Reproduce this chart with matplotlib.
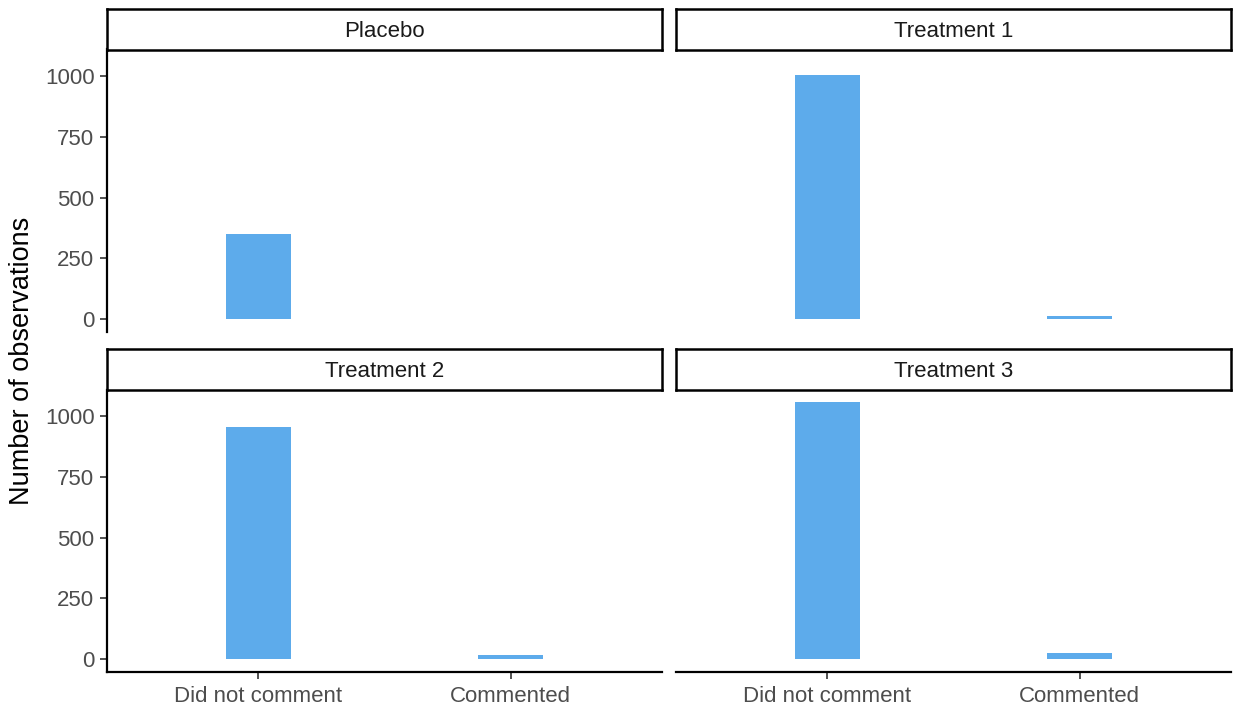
import matplotlib
matplotlib.use('Agg')
import matplotlib.pyplot as plt

plt.rcParams['font.family'] = ['Liberation Sans', 'DejaVu Sans']

groups = ['Placebo', 'Treatment 1', 'Treatment 2', 'Treatment 3']
categories = ['Did not comment', 'Commented']
did_not_comment = [350, 1003, 957, 1057]
commented = [0, 13, 19, 25]
y_ticks = [0, 250, 500, 750, 1000]

W, H = 1236, 708
bar_color = '#5DABEB'
grey = '#4D4D4D'

fig = plt.figure(figsize=(W / 100, H / 100), dpi=100)

# panel boxes in pixels: (left, right), (strip top, panel top, panel bottom)
cols = [(107, 662), (676, 1231)]
rows = [(8.5, 49.5, 332), (348.5, 389.5, 672)]

ymax = max(did_not_comment + commented)
pad = ymax * 0.05

for i, name in enumerate(groups):
    r, c = divmod(i, 2)
    x0, x1 = cols[c]
    s0, p0, p1 = rows[r]

    ax = fig.add_axes([x0 / W, 1 - p1 / H, (x1 - x0) / W, (p1 - p0) / H])
    xs = [1, 2]
    vals = [did_not_comment[i], commented[i]]
    ax.bar(xs, vals, width=0.26, color=bar_color)
    ax.set_xlim(0.4, 2.6)
    ax.set_ylim(-pad, ymax + pad)

    for s in ax.spines.values():
        s.set_visible(False)
        s.set_linewidth(1.6)
    ax.tick_params(width=1.2, length=5, color='#333333', labelcolor=grey,
                   labelsize=16)
    ax.tick_params(axis='y', pad=4)
    ax.tick_params(axis='x', pad=5)

    if c == 0:
        ax.spines['left'].set_visible(True)
        ax.set_yticks(y_ticks)
    else:
        ax.set_yticks([])
    if r == 1:
        ax.spines['bottom'].set_visible(True)
        ax.set_xticks(xs)
        ax.set_xticklabels(categories)
    else:
        ax.set_xticks([])

    # facet strip
    st = fig.add_axes([x0 / W, 1 - p0 / H, (x1 - x0) / W, (p0 - s0) / H])
    st.set_xticks([])
    st.set_yticks([])
    for s in st.spines.values():
        s.set_linewidth(1.8)
        s.set_color('black')
    st.text(0.5, 0.44, name, ha='center', va='center', fontsize=16,
            color='#1A1A1A', transform=st.transAxes)

fig.text(22 / W, 1 - 361 / H, 'Number of observations', rotation=90,
         ha='center', va='center', fontsize=19.5)

fig.savefig('out.png', dpi=100)
